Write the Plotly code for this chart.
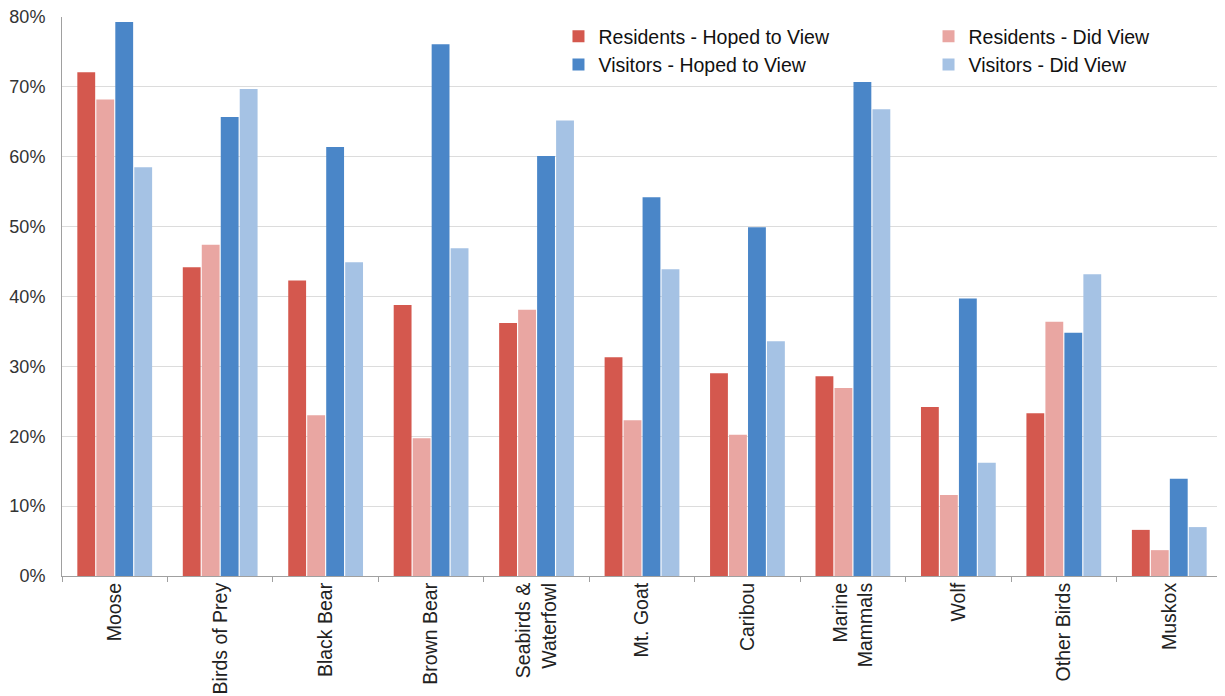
import plotly.graph_objects as go

categories = ["Moose", "Birds of Prey", "Black Bear", "Brown Bear", "Seabirds &<br>Waterfowl",
              "Mt. Goat", "Caribou", "Marine<br>Mammals", "Wolf", "Other Birds", "Muskox"]
residents_hoped = [72.1, 44.2, 42.3, 38.8, 36.2, 31.3, 29.0, 28.6, 24.2, 23.3, 6.6]
residents_did = [68.2, 47.4, 23.0, 19.7, 38.1, 22.3, 20.2, 26.9, 11.6, 36.4, 3.7]
visitors_hoped = [79.3, 65.7, 61.4, 76.1, 60.1, 54.2, 49.9, 70.7, 39.7, 34.8, 13.9]
visitors_did = [58.5, 69.7, 44.9, 46.9, 65.2, 43.9, 33.6, 66.8, 16.2, 43.2, 7.0]
y_ticks = [0, 10, 20, 30, 40, 50, 60, 70, 80]
y_tick_text = [f"{v}%" for v in y_ticks]

series = [
    ("Residents - Hoped to View", residents_hoped, "#d4584e", "legend"),
    ("Residents - Did View", residents_did, "#e9a6a2", "legend2"),
    ("Visitors - Hoped to View", visitors_hoped, "#4a86c8", "legend"),
    ("Visitors - Did View", visitors_did, "#a5c2e4", "legend2"),
]

fig = go.Figure()
for name, vals, color, leg in series:
    fig.add_trace(go.Bar(
        x=categories, y=vals, name=name, legend=leg,
        marker=dict(color=color, line=dict(width=0)),
    ))

font_family = "Liberation Sans, Arial, sans-serif"
fig.update_layout(
    width=1225, height=696,
    margin=dict(l=54, r=11, t=9, b=128, autoexpand=False),
    paper_bgcolor="white", plot_bgcolor="white",
    barmode="group", bargap=0.28, bargroupgap=0.06,
    font=dict(family=font_family, size=15, color="#222222"),
    showlegend=True,
    legend=dict(x=0.428, y=1.0, xanchor="left", yanchor="top",
                bgcolor="rgba(0,0,0,0)", font=dict(size=19.5, color="#111111"),
                tracegroupgap=0, itemwidth=30),
    legend2=dict(x=0.747, y=1.0, xanchor="left", yanchor="top",
                 bgcolor="rgba(0,0,0,0)", font=dict(size=19.5, color="#111111"),
                 tracegroupgap=0, itemwidth=30),
    xaxis=dict(
        tickangle=-90, showline=True, linecolor="#a0a0a0", linewidth=1,
        ticks="outside", tickson="boundaries", ticklen=5, tickcolor="#a0a0a0",
        showgrid=False, tickfont=dict(size=19.5, color="#222222"), automargin=False,
        ticklabelstandoff=-2, ticklabeloverflow="allow",
    ),
    yaxis=dict(
        range=[0, 80], tickvals=y_ticks, ticktext=y_tick_text,
        showline=True, linecolor="#a0a0a0", linewidth=1,
        showgrid=True, gridcolor="#dcdcdc", gridwidth=1,
        zeroline=False, tickfont=dict(size=18, color="#333333"),
        ticks="", ticklabelstandoff=12, automargin=False,
        ticklabeloverflow="allow",
    ),
)

fig.write_html("out.html")
